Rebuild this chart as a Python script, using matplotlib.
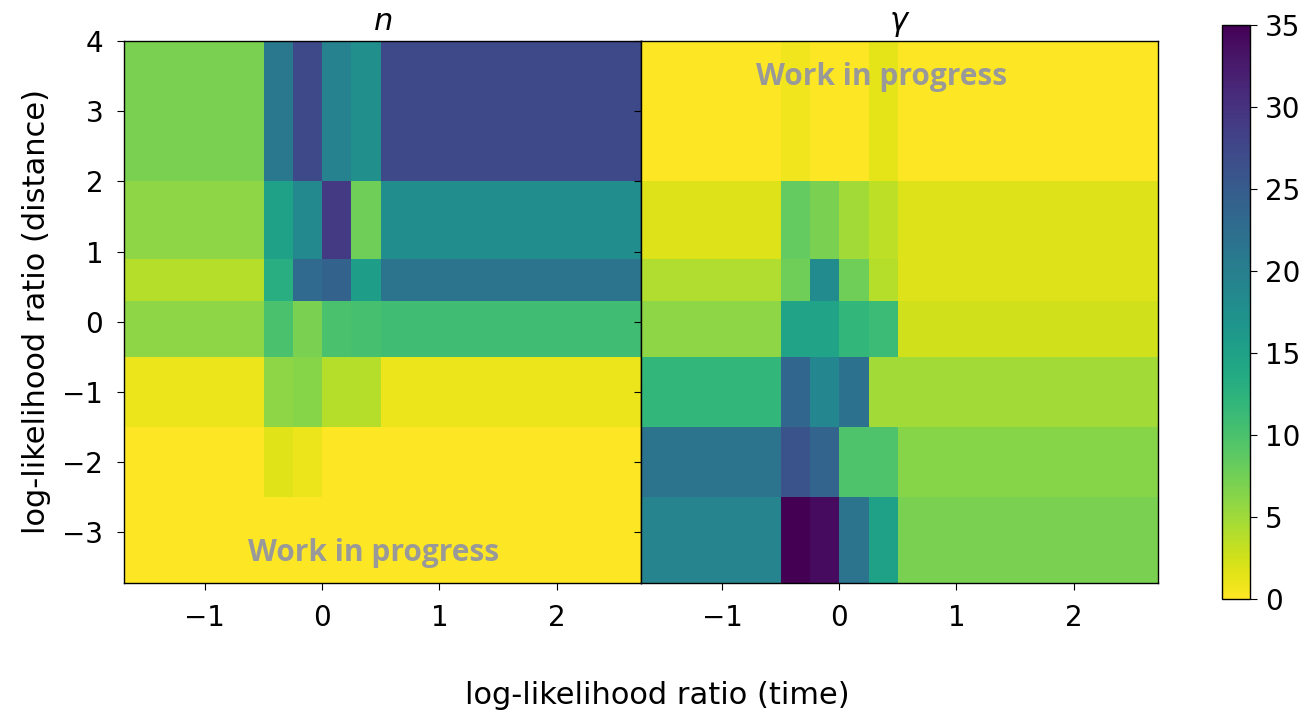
import numpy as np
import matplotlib.pyplot as plt

# bin edges (log-likelihood ratio)
x_edges = [-1.69, -0.5, -0.25, 0.0, 0.25, 0.5, 2.72]
y_edges = [-3.72, -2.5, -1.5, -0.5, 0.3, 0.9, 2.0, 4.0]

# rows from bottom (y) to top, columns left to right (x)
n_vals = [
    [0.0, 0.0, 0.0, 0.0, 0.0, 0.0],
    [0.0, 1.7, 1.0, 0.0, 0.0, 0.0],
    [1.0, 6.0, 6.3, 3.9, 3.9, 1.0],
    [6.0, 10.0, 7.0, 10.0, 10.3, 10.8],
    [3.9, 13.0, 23.0, 24.0, 15.7, 21.7],
    [6.0, 15.0, 18.5, 29.0, 7.7, 18.0],
    [7.0, 21.0, 27.3, 19.5, 17.5, 27.3],
]

gamma_vals = [
    [19.2, 35.0, 34.0, 21.7, 15.0, 7.0],
    [21.7, 26.0, 23.8, 9.8, 9.8, 6.3],
    [11.9, 23.5, 19.0, 22.0, 4.8, 4.8],
    [6.0, 14.7, 14.7, 11.9, 11.2, 2.5],
    [4.2, 7.7, 18.2, 7.7, 3.9, 1.8],
    [1.8, 8.4, 7.0, 4.9, 3.5, 1.8],
    [0.0, 0.7, 0.0, 0.0, 1.5, 0.0],
]

titles = ["$n$", r"$\gamma$"]
cbar_ticks = [0, 5, 10, 15, 20, 25, 30, 35]

plt.rcParams.update({
    "font.family": "DejaVu Sans",
    "font.size": 20,
    "axes.linewidth": 1.0,
})

fig = plt.figure(figsize=(13.15, 7.14), dpi=100)
ax_n = fig.add_axes([0.0943, 0.1835, 0.3932, 0.7591])
ax_g = fig.add_axes([0.4875, 0.1835, 0.3932, 0.7591], sharey=ax_n)
cax = fig.add_axes([0.9293, 0.1611, 0.0213, 0.8039])

for ax, vals, title in zip([ax_n, ax_g], [n_vals, gamma_vals], titles):
    mesh = ax.pcolormesh(x_edges, y_edges, np.array(vals), cmap="viridis_r",
                         vmin=0, vmax=35)
    ax.set_xlim(x_edges[0], x_edges[-1])
    ax.set_ylim(y_edges[0], y_edges[-1])
    ax.set_title(title, fontsize=22, pad=8)
    ax.set_xticks([-1, 0, 1, 2])
    ax.tick_params(labelsize=20, length=5, pad=10)

ax_g.tick_params(labelleft=False)
ax_n.set_yticks([-3, -2, -1, 0, 1, 2, 3, 4])

wip = dict(ha="center", va="center", fontsize=21.5, fontweight="bold",
           color="#999999", family=["Open Sans", "Noto Sans", "DejaVu Sans"])
ax_n.text(0.482, 0.055, "Work in progress", transform=ax_n.transAxes, **wip)
ax_g.text(0.466, 0.934, "Work in progress", transform=ax_g.transAxes, **wip)

ax_n.set_ylabel("log-likelihood ratio (distance)", fontsize=22, labelpad=8)
fig.supxlabel("log-likelihood ratio (time)", fontsize=22, y=0.005)

cb = fig.colorbar(mesh, cax=cax, ticks=cbar_ticks)
cb.ax.tick_params(labelsize=20, length=5, pad=6)

fig.savefig("out.png", dpi=100)
plt.close(fig)
